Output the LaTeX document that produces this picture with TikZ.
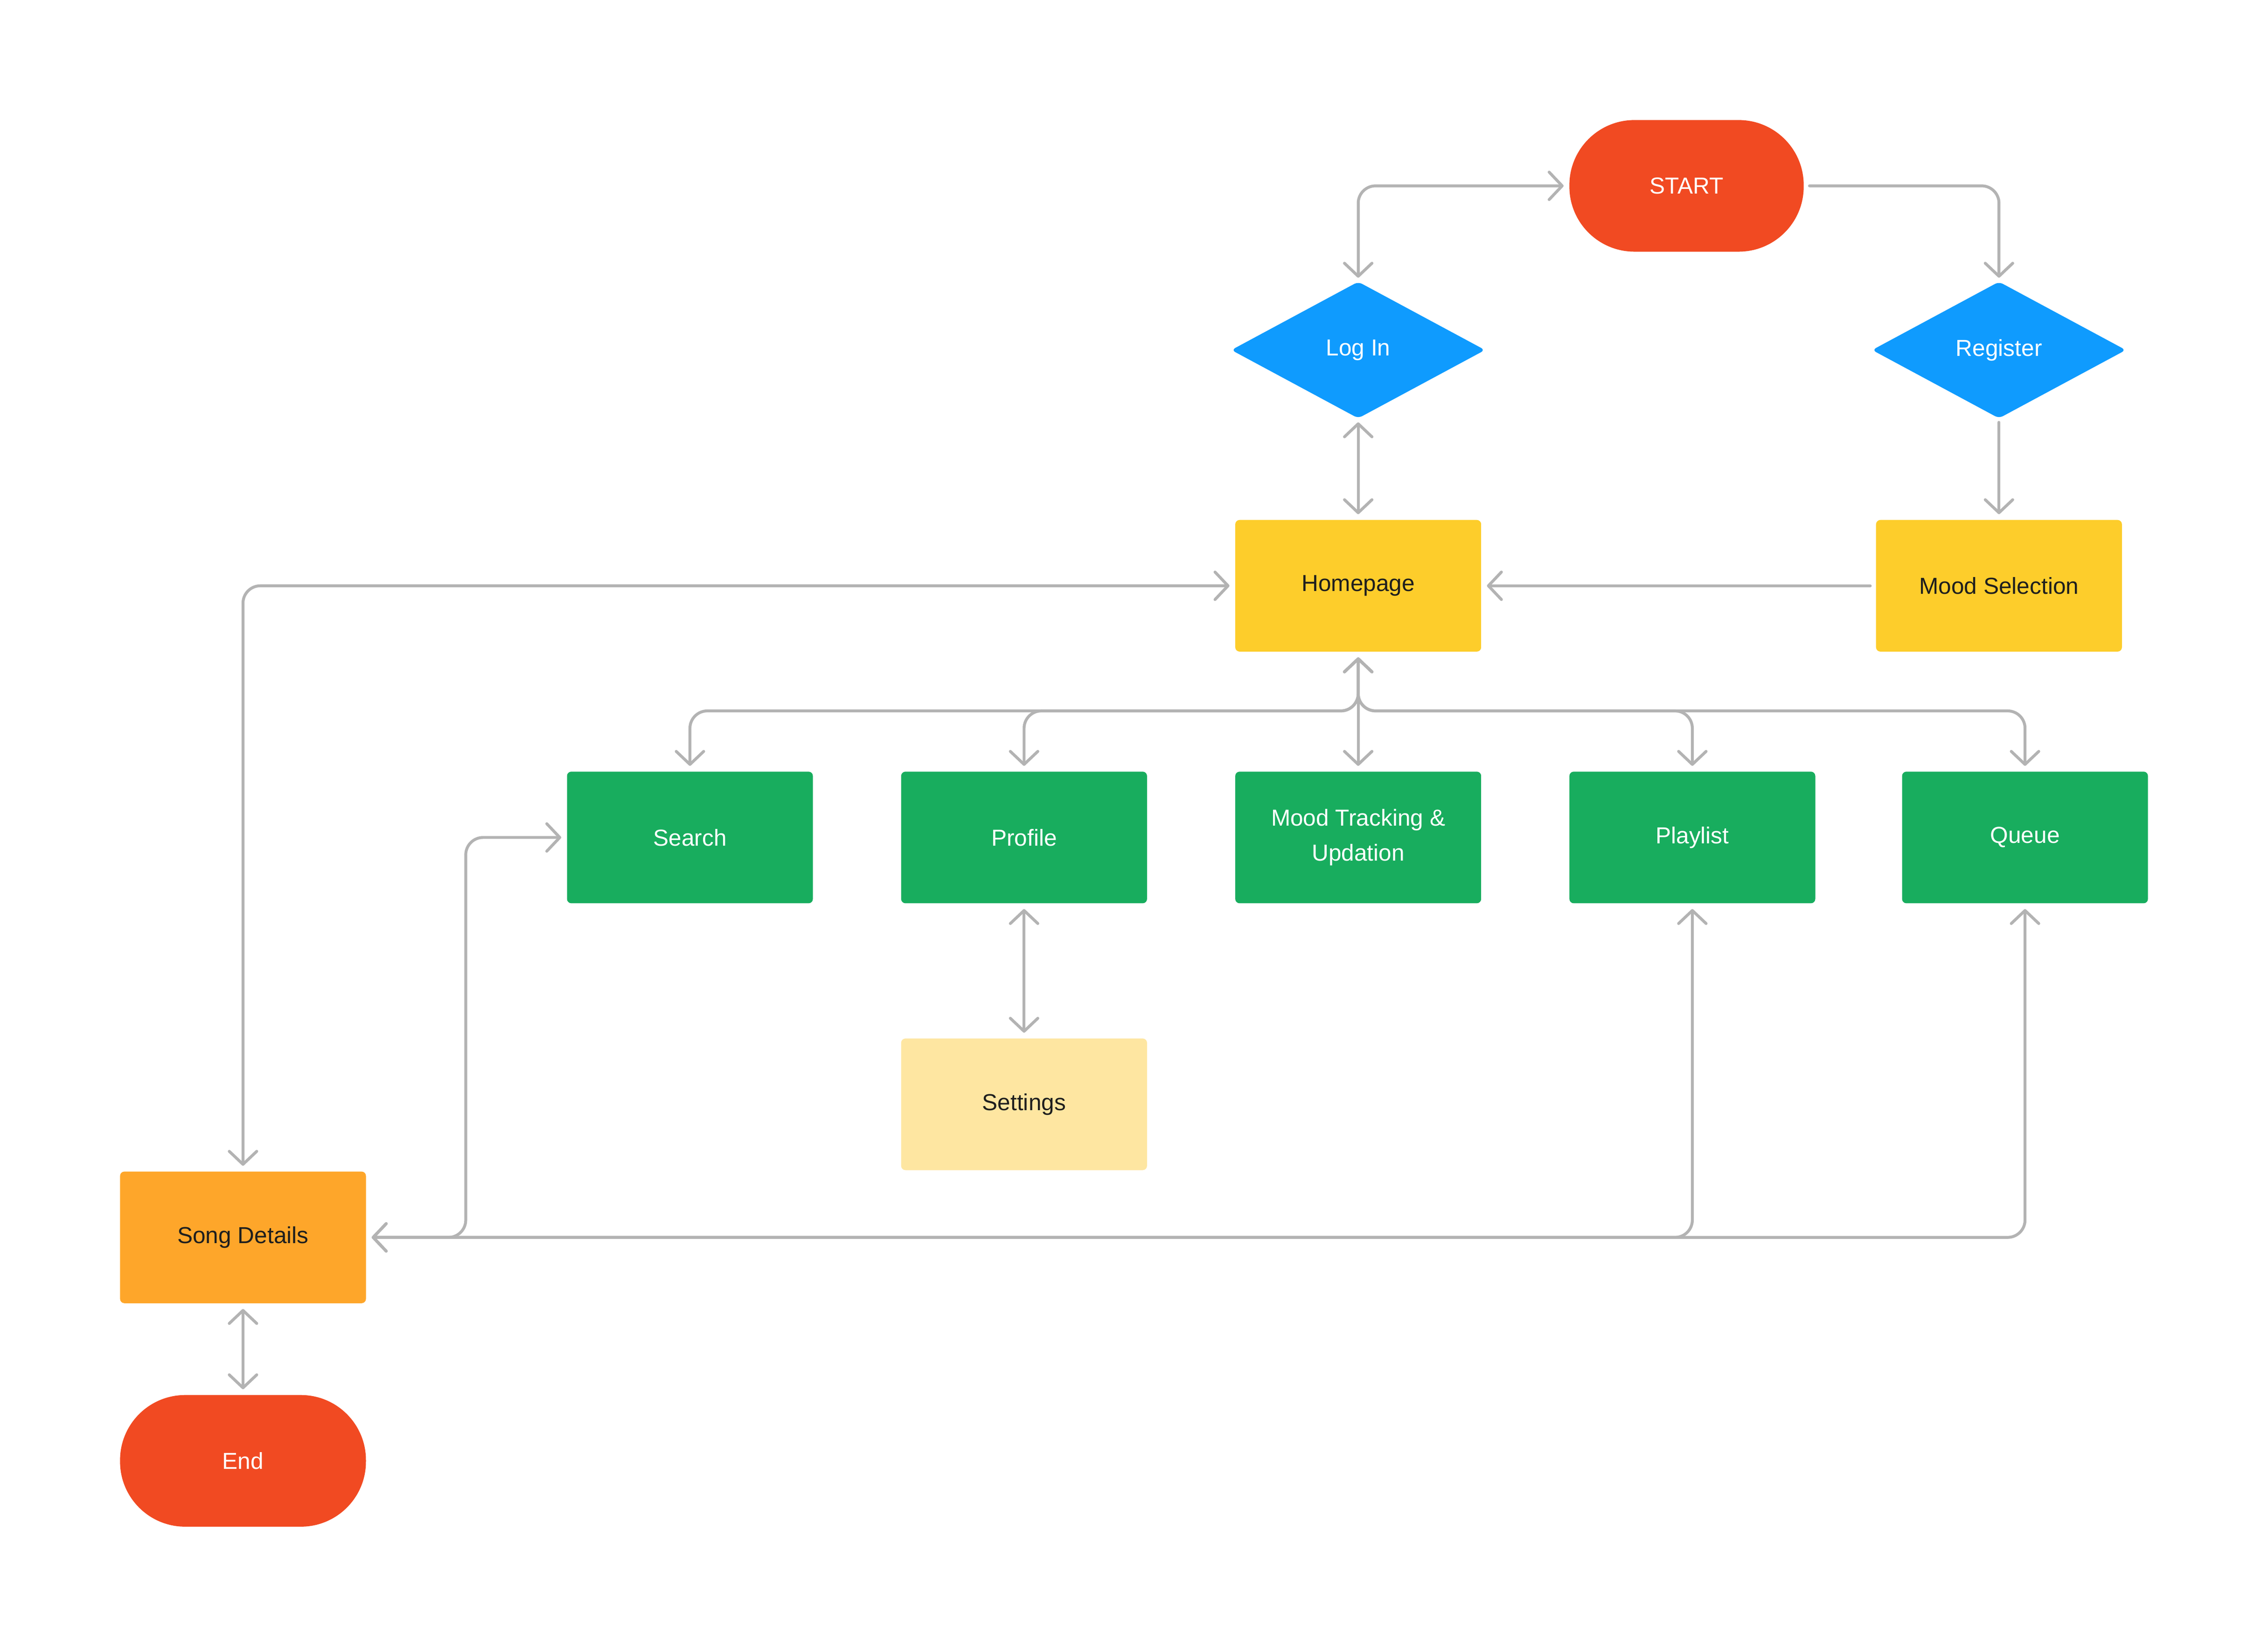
\documentclass[tikz,border=0pt]{standalone}
\usepackage{fontspec}
\setmainfont{Liberation Sans}
\usetikzlibrary{shapes.geometric,arrows.meta}
\definecolor{cred}{HTML}{F14A22}
\definecolor{cblue}{HTML}{0F9BFE}
\definecolor{cyellow}{HTML}{FDCD2B}
\definecolor{cgreen}{HTML}{18AD5E}
\definecolor{clight}{HTML}{FEE6A1}
\definecolor{corange}{HTML}{FEA62A}
\definecolor{cgray}{HTML}{B3B3B3}
\definecolor{ctext}{HTML}{1E1E1E}
\begin{document}
\begin{tikzpicture}[x=1pt,y=-1pt,
  base/.style={inner sep=0pt, outer sep=4pt, align=center, font=\fontsize{16}{24}\selectfont},
  box/.style={base, rectangle, rounded corners=3pt, minimum width=170pt, minimum height=91pt},
  term/.style={base, rectangle, rounded corners=45pt, minimum height=91pt, fill=cred, text=white},
  decision/.style={base, diamond, rounded corners=3pt, minimum width=177pt, minimum height=96pt, outer sep=2pt, fill=cblue, text=white},
  yellowbox/.style={box, fill=cyellow, text=ctext},
  greenbox/.style={box, fill=cgreen, text=white},
  lightbox/.style={box, fill=clight, text=ctext},
  orangebox/.style={box, fill=corange, text=ctext},
  conn/.style={draw=cgray, line width=2pt, rounded corners=12pt, line cap=round, line join=round},
  >={Straight Barb[length=9pt,width=19pt,round]}
]
\useasboundingbox (0,0) rectangle (1568,1139.1);
\fill[white] (0,0) rectangle (1568,1139.1);

\node[term, minimum width=162pt] (start) at (1166,128.5) {START};
\node[decision] (login) at (939,242) {Log In};
\node[decision] (register) at (1382,242) {Register};
\node[yellowbox] (home) at (939,405) {Homepage};
\node[yellowbox] (mood) at (1382,405) {Mood Selection};
\node[greenbox] (search) at (477,579) {Search};
\node[greenbox] (profile) at (708,579) {Profile};
\node[greenbox] (track) at (939,579) {Mood Tracking \&\\Updation};
\node[greenbox] (playlist) at (1170,579) {Playlist};
\node[greenbox] (queue) at (1400,579) {Queue};
\node[lightbox] (settings) at (708,763.5) {Settings};
\node[orangebox] (song) at (168,855.5) {Song Details};
\node[term, minimum width=170pt] (end) at (168,1010) {End};

\draw[conn,<->] (start.west) -| (login.north);
\draw[conn,->] (start.east) -| (register.north);
\draw[conn,<->] (login.south) -- (home.north);
\draw[conn,->] (register.south) -- (mood.north);
\draw[conn,->] (mood.west) -- (home.east);
\draw[conn,<->] (song.north) |- (home.west);

\draw[conn,<->] (home.south) -- ++(0,37) -| (search.north);
\draw[conn,<->] (home.south) -- ++(0,37) -| (profile.north);
\draw[conn,<->] (home.south) -- (track.north);
\draw[conn,<->] (home.south) -- ++(0,37) -| (playlist.north);
\draw[conn,<->] (home.south) -- ++(0,37) -| (queue.north);

\draw[conn,<->] (profile.south) -- (settings.north);
\draw[conn,<->] (search.west) -- ++(-66,0) |- (song.east);
\draw[conn,<->] (playlist.south) |- (song.east);
\draw[conn,<->] (queue.south) |- (song.east);
\draw[conn,<->] (song.south) -- (end.north);
\end{tikzpicture}
\end{document}
